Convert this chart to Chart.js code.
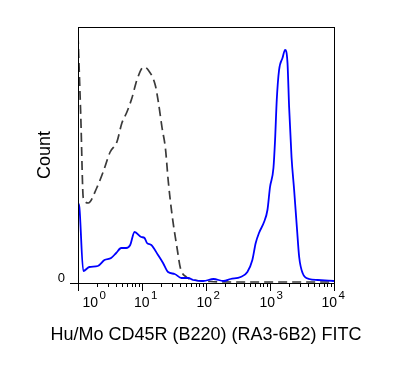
<!DOCTYPE html>
<html>
<head>
<meta charset="utf-8">
<script src="https://cdn.jsdelivr.net/npm/chart.js@4/dist/chart.umd.min.js"></script>
<style>
    html, body { margin: 0; padding: 0; background: #fff; }
    #wrap { width: 395px; height: 391px; }
</style>
</head>
<body>
<div id="wrap"><canvas id="fitc-histogram"></canvas></div>
<script>
// FITC intensity (x) and cell count (y)
const stainedX = [
    1, 1.05, 1.21, 1.5, 2.04, 2.59, 3.29, 3.95, 4.73, 5.66, 6.54, 7.64,
    9.73, 10.96, 11.96, 13.97, 17.79, 21.32, 25.53, 32.4, 41.3, 52.6, 63,
    91, 131, 188, 242, 348, 443, 530, 598, 673, 807, 912, 1001, 1132, 1200,
    1275, 1386, 1567, 1722, 1877, 1989, 2169, 2383, 2628, 2856, 3228, 4100,
    5550, 10000,
];
const stainedCount = [
    80, 76, 12, 16, 17, 23, 25, 30, 35, 35, 38, 51,
    46, 45, 40, 38, 28, 20, 11, 9, 5, 5, 3,
    2, 4, 2, 4, 6, 11, 23, 40, 50, 61, 73, 96, 115, 143,
    183, 213, 225, 233, 220, 176, 126, 93, 56, 26, 10, 4,
    3, 2,
];
const controlX = [
    1, 1.106, 1.21, 1.45, 1.96, 2.47, 3.18, 4.05, 4.85, 5.81, 6.96, 8.33,
    10.6, 12.5, 16.1, 18.0, 20.6, 23.2, 25.8, 29.5, 35.3, 39.8, 49.3, 66,
    117, 300, 1000, 10000,
];
const controlCount = [
    248, 166, 85, 80, 95, 111, 131, 141, 160, 171, 185, 203,
    216, 213, 198, 181, 155, 135, 101, 68, 35, 15, 6, 3,
    1.5, 1, 1, 1,
];
const decadeTicks = [1, 10, 100, 1000, 10000];
const decadeExponents = ["0", "1", "2", "3", "4"];
const countTicks = [0];
const xTitle = "Hu/Mo CD45R (B220) (RA3-6B2) FITC";

const fontFamily = "'Liberation Sans', Arial, sans-serif";

// 1..9 x each decade, the decades themselves get longer marks later
const minorTicks = [];
decadeTicks.slice(0, -1).forEach((d) => {
    for (let m = 1; m < 10; m++) minorTicks.push(d * m);
});
minorTicks.push(decadeTicks[decadeTicks.length - 1]);

const toPoints = (xs, ys) => xs.map((x, i) => ({ x: x, y: ys[i] }));

const flowFrame = {
    id: "flowFrame",
    afterDraw(chart) {
        const { ctx, chartArea: a } = chart;
        const xScale = chart.scales.x;
        ctx.save();
        ctx.strokeStyle = "#000";
        ctx.lineWidth = 1;
        ctx.strokeRect(a.left + 0.5, a.top + 0.5, a.right - a.left, a.bottom - a.top);

        // where "10" starts relative to its tick (first one kept inside the frame)
        const labelStart = [4, -8.5, -10, -11, -13];
        ctx.fillStyle = "#000";
        ctx.textBaseline = "alphabetic";
        decadeTicks.forEach((v, i) => {
            const px = Math.round(xScale.getPixelForValue(v)) + 0.5;
            ctx.beginPath();
            ctx.moveTo(px, a.bottom);
            ctx.lineTo(px, a.bottom + 8);
            ctx.stroke();

            ctx.textAlign = "left";
            ctx.font = "14px " + fontFamily;
            const baseW = ctx.measureText("10").width;
            const x0 = px + labelStart[i];
            ctx.fillText("10", x0, a.bottom + 24);
            ctx.font = "11.5px " + fontFamily;
            ctx.fillText(decadeExponents[i], x0 + baseW + 1.5, a.bottom + 15.5);
        });

        // axis title drawn here so it is not squeezed to the plot width
        ctx.textAlign = "center";
        ctx.font = "18px " + fontFamily;
        ctx.fillText(xTitle, (xScale.left + xScale.right) / 2, a.bottom + 57);
        ctx.restore();
    },
};

const histogramContext = document.getElementById("fitc-histogram");

const histogramData = {
    datasets: [
        {
            label: "Hu/Mo CD45R (B220) FITC",
            data: toPoints(stainedX, stainedCount),
            borderColor: "#0000ff",
            borderWidth: 1.8,
            pointRadius: 0,
            cubicInterpolationMode: "monotone",
            fill: false,
        },
        {
            label: "Control",
            data: toPoints(controlX, controlCount),
            borderColor: "#3a3a3a",
            borderWidth: 1.7,
            borderDash: [9, 5],
            pointRadius: 0,
            cubicInterpolationMode: "monotone",
            fill: false,
        },
    ],
};

const histogramConfig = {
    type: "line",
    data: histogramData,
    plugins: [flowFrame],
    options: {
        responsive: true,
        maintainAspectRatio: false,
        animation: false,
        layout: { padding: { top: 27, right: 61, bottom: 0, left: 0 } },
        plugins: {
            legend: { display: false },
            tooltip: { enabled: false },
        },
        scales: {
            x: {
                type: "logarithmic",
                min: 1,
                max: 10000,
                afterBuildTicks: (scale) => {
                    scale.ticks = minorTicks.map((v) => ({ value: v }));
                },
                afterFit: (scale) => {
                    scale.height = 108;
                },
                ticks: { display: false },
                grid: {
                    drawOnChartArea: false,
                    drawTicks: true,
                    tickLength: 4,
                    color: "#000",
                },
                border: { display: true, color: "#000", width: 1 },
                title: { display: false },
            },
            y: {
                type: "linear",
                min: 0,
                max: 256,
                afterBuildTicks: (scale) => {
                    scale.ticks = countTicks.map((v) => ({ value: v }));
                },
                afterFit: (scale) => {
                    scale.width = 78;
                },
                ticks: {
                    color: "#000",
                    font: { family: fontFamily, size: 13 },
                    padding: 5,
                    labelOffset: -5,
                },
                grid: {
                    drawOnChartArea: false,
                    drawTicks: true,
                    tickLength: 8,
                    color: "#000",
                },
                border: { display: true, color: "#000", width: 1 },
                title: {
                    display: true,
                    text: "Count",
                    color: "#000",
                    font: { family: fontFamily, size: 18 },
                    padding: { top: 34, bottom: 0 },
                },
            },
        },
    },
};

const histogramChart = new Chart(histogramContext, histogramConfig);
</script>
</body>
</html>
